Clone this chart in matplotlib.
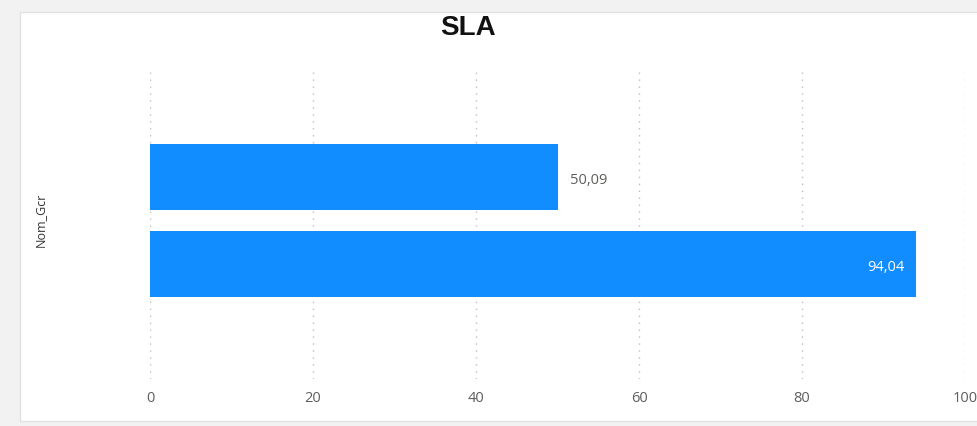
import matplotlib.pyplot as plt
from matplotlib.patches import Rectangle

# data
categories = ["", " "]
values = [50.09, 94.04]
value_labels = ["50,09", "94,04"]
xticks = [0, 20, 40, 60, 80, 100]

plt.rcParams['font.family'] = ['Liberation Sans', 'DejaVu Sans']

fig = plt.figure(figsize=(9.77, 4.27), dpi=100)
fig.patch.set_facecolor('#f2f2f2')
# white card behind the visual
card = Rectangle((20 / 977, 5 / 427), 1.0, 1 - 18 / 427, transform=fig.transFigure,
                 facecolor='white', edgecolor='#e2e2e2', linewidth=1.0, zorder=-5)
fig.patches.append(card)

ax = fig.add_axes([150 / 977, 1 - 380 / 427, 815 / 977, 310 / 427])
ax.set_facecolor('none')
ax.set_zorder(2)

ypos = list(range(len(categories)))
ax.barh(ypos, values, height=0.76, color='#118DFF', zorder=3)

for y, v, lab in zip(ypos, values, value_labels):
    if v > 80:
        ax.text(v - 1.5, y + 0.03, lab, ha='right', va='center', color='white', fontsize=10.5,
                family=['Open Sans', 'DejaVu Sans'], zorder=4)
    else:
        ax.text(v + 1.5, y + 0.03, lab, ha='left', va='center', color='#605E5C', fontsize=10.5,
                family=['Open Sans', 'DejaVu Sans'], zorder=4)

ax.set_xlim(0, 100)
ax.set_ylim(2.32, -1.24)
ax.set_xticks(xticks)
ax.set_xticklabels([str(t) for t in xticks], color='#605E5C', fontsize=10.5,
                   family=['Open Sans', 'DejaVu Sans'])
ax.set_yticks(ypos)
ax.set_yticklabels(categories)
ax.tick_params(axis='both', length=0)
ax.tick_params(axis='x', pad=8)
ax.grid(axis='x', color='#bdbdbd', linestyle=(0, (1, 4)), linewidth=1.0, zorder=1)
for s in ax.spines.values():
    s.set_visible(False)

fig.text(40 / 977, 1 - 220 / 427, 'Nom_Gcr', rotation=90, ha='center', va='center',
         fontsize=9, color='#333333', family=['Open Sans', 'DejaVu Sans'])
fig.text(468 / 977, 1 - 28 / 427, 'SLA', ha='center', va='center', fontsize=20,
         fontweight='heavy', color='#111111', fontstretch='condensed')

fig.savefig('out.png', dpi=100, facecolor=fig.get_facecolor())
